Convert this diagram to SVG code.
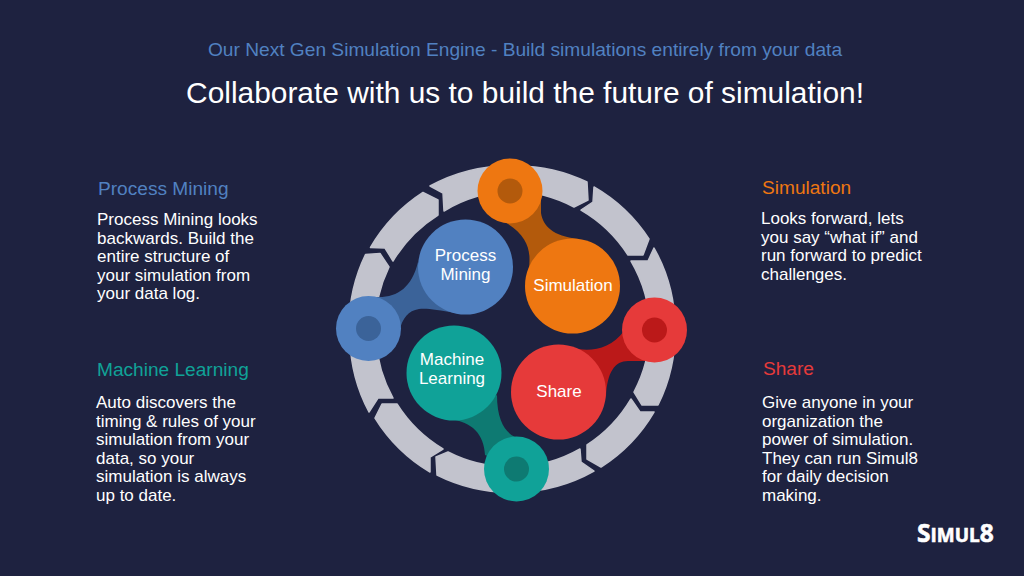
<svg xmlns="http://www.w3.org/2000/svg" width="1024" height="576" viewBox="0 0 1024 576">
<style>
text{font-family:"Liberation Sans",Arial,sans-serif}
.seg{fill:#c2c3cd;stroke:#c2c3cd;stroke-width:1.500;stroke-linejoin:round}
.c{fill:#fff;font-size:17px;text-anchor:middle}
.b{fill:#fff;font-size:17px}
.h{font-size:19.100px}
.blue{fill:#5181c1}.dblue{fill:#3b6399}
.orange{fill:#ee7711}.dorange{fill:#b35a0c}
.red{fill:#e63a3a}.dred{fill:#bb1919}
.teal{fill:#10a298}.dteal{fill:#0e7a72}
</style>
<rect width="1024" height="576" fill="#1e2240"/>
<text x="525" y="56" text-anchor="middle" font-size="19.150" class="blue">Our Next Gen Simulation Engine - Build simulations entirely from your data</text>
<text x="525" y="103" text-anchor="middle" font-size="29.900" fill="#fff">Collaborate with us to build the future of simulation!</text>

<g id="ring">
<path class="seg" d="M350 340A163 163 0 0 1 365.500 254.500L380 253.500L389 267A138 138 0 0 0 376 340Z"/>
<path class="seg" d="M370.500 247.500L385 248L393 261A138 138 0 0 1 438 215L438 200L423 192.500A163 163 0 0 0 370.500 247.500Z"/>
<path class="seg" d="M430 186L443 193L444 211A138 138 0 0 1 512 191L512 166A163 163 0 0 0 430 186Z"/>
<path class="seg" d="M512 166A163 163 0 0 1 587 182L588 200L574 207A138 138 0 0 0 512 191Z"/>
<path class="seg" d="M594 187L593 202L581 210A138 138 0 0 1 628 255L643 255L649 239A163 163 0 0 0 594 187Z"/>
<path class="seg" d="M654 248L648 261L631 261A138 138 0 0 1 650 329L675 329A163 163 0 0 0 654 248Z"/>
<path class="seg" d="M675 329A163 163 0 0 1 658 405L642 405L634 392A138 138 0 0 0 650 329Z"/>
<path class="seg" d="M654 412L640 412L631 399A138 138 0 0 1 587 445L587 459L601 467A163 163 0 0 0 654 412Z"/>
<path class="seg" d="M580 449L581 462L594 471A163 163 0 0 1 516 492L516 467A138 138 0 0 0 580 449Z"/>
<path class="seg" d="M516 492A163 163 0 0 1 437 475L436 457L448 452A138 138 0 0 0 516 467Z"/>
<path class="seg" d="M443 449L430 457L430 472A163 163 0 0 1 375 418L382 404L397 404A138 138 0 0 0 443 449Z"/>
<path class="seg" d="M393 398L378 398L369 412A163 163 0 0 1 350 340L376 340A138 138 0 0 0 393 398Z"/>
</g>

<g id="connectors">
<path class="dblue" d="M368 297L379 297C398 297 412 287 418 262L455 313C438 310 427 308 419 309C408 311 403 317 399 332L368 329Z"/>
<path class="dorange" d="M541 185L541 213C543 226 553 236 578 239L529 268C531 250 528 236 505 222L510 191Z"/>
<path class="dred" d="M572 348C590 352 610 350 624 331L654 330L645 361L628 361C615 361 607 372 606 397Z"/>
<path class="dteal" d="M450 419C472 422 484 434 485 455L516 469L515 437C505 432 497 420 497 395Z"/>
</g>

<g id="node-orange-hub"><circle class="orange" cx="510" cy="191" r="32.500"/><circle class="dorange" cx="510" cy="191" r="12.500"/></g>
<g id="node-red-hub"><circle class="red" cx="654.500" cy="330" r="32.500"/><circle class="dred" cx="654.500" cy="330" r="12.500"/></g>
<g id="node-teal-hub"><circle class="teal" cx="516.500" cy="469" r="32.500"/><circle class="dteal" cx="516.500" cy="469" r="12.500"/></g>
<g id="node-blue-hub"><circle class="blue" cx="368.500" cy="328.500" r="32.500"/><circle class="dblue" cx="368.500" cy="328.500" r="12.500"/></g>

<g id="node-process-mining"><circle class="blue" cx="465.500" cy="267" r="47.500"/>
<text class="c" x="465.500" y="261">Process</text><text class="c" x="465.500" y="279.500">Mining</text></g>
<g id="node-simulation"><circle class="orange" cx="572.500" cy="286" r="47.500"/>
<text class="c" x="573" y="291">Simulation</text></g>
<g id="node-machine-learning"><circle class="teal" cx="454" cy="373" r="47.500"/>
<text class="c" x="452" y="365">Machine</text><text class="c" x="452" y="384">Learning</text></g>
<g id="node-share"><circle class="red" cx="558.500" cy="392" r="47.500"/>
<text class="c" x="559" y="396.500">Share</text></g>

<g id="panel-process-mining">
<text class="h blue" x="98" y="195">Process Mining</text>
<text class="b" x="97" y="225">Process Mining looks</text>
<text class="b" x="97" y="244">backwards. Build the</text>
<text class="b" x="97" y="262">entire structure of</text>
<text class="b" x="97" y="281">your simulation from</text>
<text class="b" x="97" y="299">your data log.</text>
</g>
<g id="panel-machine-learning">
<text class="h teal" x="97" y="376">Machine Learning</text>
<text class="b" x="96" y="408">Auto discovers the</text>
<text class="b" x="96" y="427">timing &amp; rules of your</text>
<text class="b" x="96" y="445">simulation from your</text>
<text class="b" x="96" y="464">data, so your</text>
<text class="b" x="96" y="482">simulation is always</text>
<text class="b" x="96" y="501">up to date.</text>
</g>
<g id="panel-simulation">
<text class="h orange" x="762" y="194">Simulation</text>
<text class="b" x="761" y="224">Looks forward, lets</text>
<text class="b" x="761" y="243">you say “what if” and</text>
<text class="b" x="761" y="261">run forward to predict</text>
<text class="b" x="761" y="280">challenges.</text>
</g>
<g id="panel-share">
<text class="h red" x="763" y="375">Share</text>
<text class="b" x="762" y="408">Give anyone in your</text>
<text class="b" x="762" y="427">organization the</text>
<text class="b" x="762" y="445">power of simulation.</text>
<text class="b" x="762" y="464">They can run Simul8</text>
<text class="b" x="762" y="482">for daily decision</text>
<text class="b" x="762" y="501">making.</text>
</g>
<text id="logo" x="917" y="542" fill="#fff" stroke="#fff" stroke-width="0.600" font-weight="700" font-size="24.500" style="font-family:'Open Sans','Liberation Sans',sans-serif">S<tspan font-size="19">IMUL</tspan>8</text>
</svg>
